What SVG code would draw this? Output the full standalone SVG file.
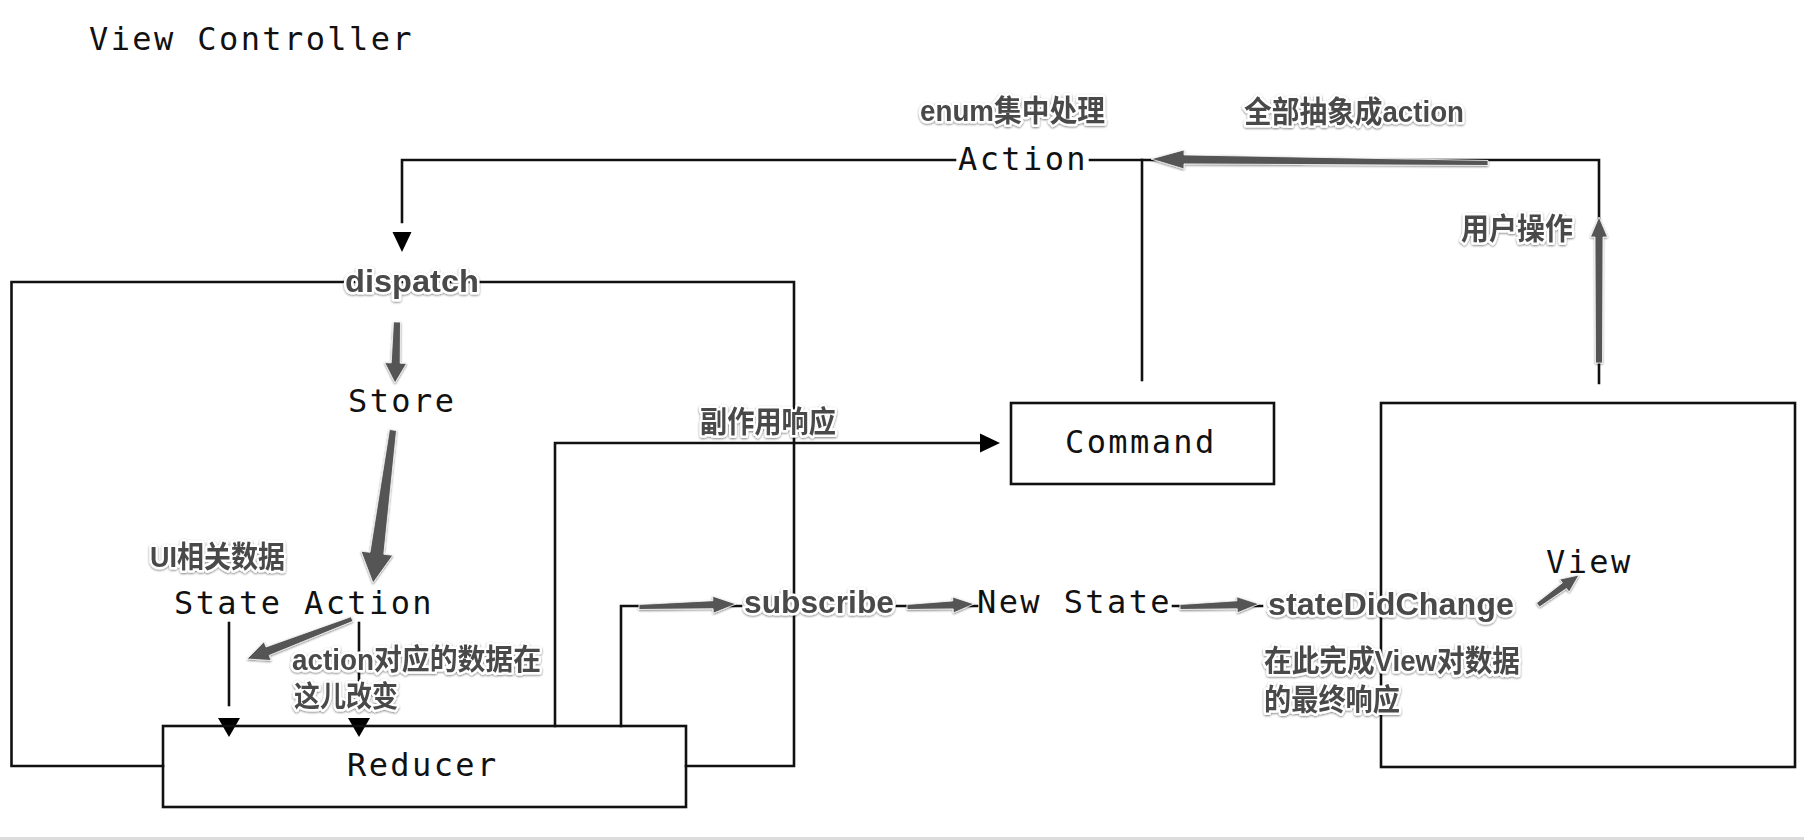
<svg xmlns="http://www.w3.org/2000/svg" width="1804" height="840" viewBox="0 0 1804 840">
<defs>
<style>
.mono{font-family:"DejaVu Sans Mono","Liberation Mono",monospace;font-size:32px;letter-spacing:2.4px;fill:#111}
.ln{fill:none;stroke:#111;stroke-width:2.6;stroke-linecap:square}
.box{fill:none;stroke:#111;stroke-width:2.6}
.head{fill:#000}
.garrow{fill:#555;stroke:#fff;stroke-width:0.8;filter:url(#sh)}
.lbl{font-family:"Liberation Sans","Noto Sans CJK SC",sans-serif;font-weight:bold;fill:#4a4a4a;stroke:#fff;stroke-width:5px;stroke-linejoin:round;paint-order:stroke;filter:url(#sh)}
</style>
<filter id="sh" x="-10%" y="-40%" width="120%" height="180%">
<feGaussianBlur in="SourceAlpha" stdDeviation="1.3"/>
<feOffset dy="1" result="b"/>
<feComponentTransfer><feFuncA type="linear" slope="0.5"/></feComponentTransfer>
<feMerge><feMergeNode/><feMergeNode in="SourceGraphic"/></feMerge>
</filter>
</defs>
<rect x="0" y="0" width="1804" height="840" fill="#fff"/>
<rect x="0" y="837" width="1804" height="3" fill="#dcdcdc"/>

<g id="title"><text class="mono" x="89" y="50">View Controller</text></g>

<g id="connectors">
<path class="ln" d="M402,222 V160 H955"/>
<path class="ln" d="M1090,160 H1599 V383"/>
<path class="ln" d="M1142,160 V380"/>
<polygon class="head" points="392.5,232 411.5,232 402,252"/>
<path class="ln" d="M163,766 H11.5 V282 H794 V766 H686"/>
<path class="ln" d="M229,623 V705"/>
<path class="ln" d="M359,623 V705"/>
<polygon class="head" points="218,718 240,718 229,737"/>
<polygon class="head" points="348,718 370,718 359,737"/>
<path class="ln" d="M555,726 V443 H982"/>
<polygon class="head" points="980,433.5 980,452.5 1000,443"/>
<path class="ln" d="M621,726 V606 H741"/>
<path class="ln" d="M897,606 H977"/>
<path class="ln" d="M1173,606 H1262"/>
<polygon class="garrow" points="1488,160.5 1184,154.9 1184.1,149.9 1151,159 1183.9,168.9 1184,163.9 1488,165.5"/>
<polygon class="garrow" points="1602.5,363 1603,237 1607.5,237 1599,217 1590.5,237 1595,237 1595.5,363"/>
<polygon class="garrow" points="393.5,321.9 391.2,362.9 384.7,362.6 395,383 406.6,363.4 400.2,363.2 400.5,322.1"/>
<polygon class="garrow" points="389.5,429.5 370,552.3 361,551.2 373,583 392.8,555.3 383.8,554.2 396.5,430.5"/>
<polygon class="garrow" points="351.1,616.7 266,647 264,641.8 247,659 271.1,660.5 269.2,655.4 352.9,621.3"/>
<polygon class="garrow" points="639,604.5 712.9,600.7 712.7,596.2 736,604 713.3,613.2 713.1,608.7 639,609.5"/>
<polygon class="garrow" points="906.9,604.5 952.8,600.9 952.7,597 974,604 953.4,612.9 953.2,608.9 907.1,609.5"/>
<polygon class="garrow" points="1179.9,604.5 1236.9,600.8 1236.7,596.8 1259,604 1237.3,612.8 1237.2,608.8 1180.1,609.5"/>
<polygon class="garrow" points="1536.5,603 1562.4,582.8 1559.8,579.2 1579,575 1569.2,592.1 1566.5,588.5 1539.5,607"/>
</g>

<g id="action"><text class="mono" x="958" y="170">Action</text></g>
<g id="store"><text class="mono" x="348" y="412">Store</text></g>
<g id="state-action"><text class="mono" x="174" y="614">State Action</text></g>
<g id="reducer"><rect class="box" x="163" y="726" width="523" height="81"/><text class="mono" x="347" y="776">Reducer</text></g>
<g id="command"><rect class="box" x="1011" y="403" width="263" height="81"/><text class="mono" x="1065" y="453">Command</text></g>
<g id="new-state"><text class="mono" x="977" y="613">New State</text></g>
<g id="view"><rect class="box" x="1381" y="403" width="414" height="364"/><text class="mono" x="1546" y="573">View</text></g>

<g id="labels">
<text class="lbl" x="920" y="121" font-size="30" textLength="185" lengthAdjust="spacingAndGlyphs">enum集中处理</text>
<text class="lbl" x="1244" y="122" font-size="30" textLength="220" lengthAdjust="spacingAndGlyphs">全部抽象成action</text>
<text class="lbl" x="1461" y="239" font-size="30" textLength="112" lengthAdjust="spacingAndGlyphs">用户操作</text>
<text class="lbl" x="345" y="292" font-size="32" textLength="134" lengthAdjust="spacingAndGlyphs">dispatch</text>
<text class="lbl" x="700" y="432" font-size="30" textLength="136" lengthAdjust="spacingAndGlyphs">副作用响应</text>
<text class="lbl" x="150" y="567" font-size="30" textLength="135" lengthAdjust="spacingAndGlyphs">UI相关数据</text>
<text class="lbl" x="292" y="670" font-size="29" textLength="249" lengthAdjust="spacingAndGlyphs">action对应的数据在</text>
<text class="lbl" x="294" y="707" font-size="29" textLength="104" lengthAdjust="spacingAndGlyphs">这儿改变</text>
<text class="lbl" x="744" y="613" font-size="32" textLength="150" lengthAdjust="spacingAndGlyphs">subscribe</text>
<text class="lbl" x="1268" y="615" font-size="32" textLength="246" lengthAdjust="spacingAndGlyphs">stateDidChange</text>
<text class="lbl" x="1264" y="671" font-size="30" textLength="256" lengthAdjust="spacingAndGlyphs">在此完成View对数据</text>
<text class="lbl" x="1264" y="710" font-size="30" textLength="136" lengthAdjust="spacingAndGlyphs">的最终响应</text>
</g>
</svg>
